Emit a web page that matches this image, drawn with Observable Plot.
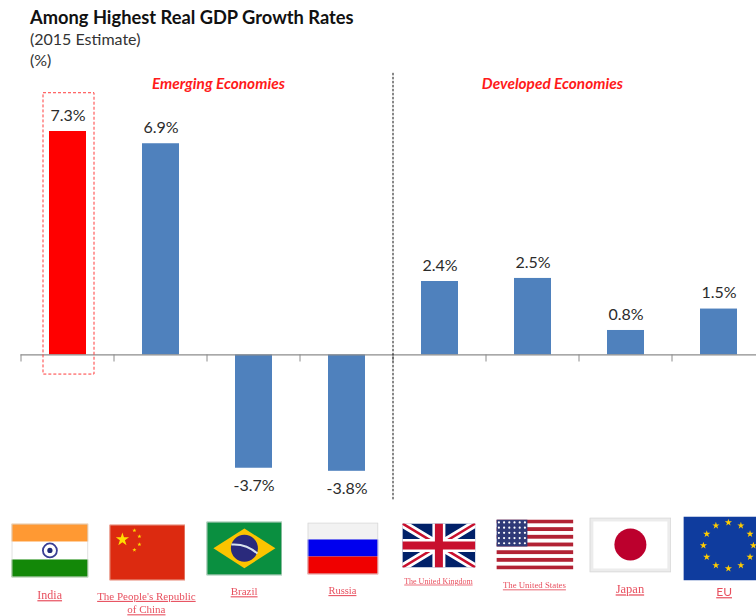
<!DOCTYPE html>
<html><head><meta charset="utf-8">
<script src="https://cdn.jsdelivr.net/npm/d3@7"></script>
<script src="https://cdn.jsdelivr.net/npm/@observablehq/plot@0.6"></script>
<style>
html,body{margin:0;padding:0;background:#fff;width:756px;height:616px;overflow:hidden}
#head{height:70px;padding:6px 0 0 30px;box-sizing:border-box;font-family:Lato,Carlito,sans-serif;color:#1a1a1a}
#head .t{font-weight:700;font-size:18.3px;line-height:22px;color:#111}
#head .s{font-size:16px;line-height:21px;color:#333}
svg{display:block}
</style></head><body>
<div id="head"><div class="t">Among Highest Real GDP Growth Rates</div><div class="s">(2015 Estimate)</div><div class="s">(%)</div></div>
<div id="chart"></div>
<script>
const countries = ["India","The People's Republic of China","Brazil","Russia","The United Kingdom","The United States","Japan","EU"];
const growth = [7.3,6.9,-3.7,-3.8,2.4,2.5,0.8,1.5];
const groups = ["Emerging Economies","Developed Economies"];
const highlighted = "India";

const table = countries.map((c,i)=>({country:c,value:growth[i],label:growth[i].toFixed(1)+"%"}));

function uri(body,w,h){
  return "data:image/svg+xml;utf8,"+encodeURIComponent(`<svg xmlns="http://www.w3.org/2000/svg" viewBox="0 0 ${w} ${h}" preserveAspectRatio="none" width="${w}" height="${h}">${body}</svg>`);
}
function star(cx,cy,r,fill,rot=0){
  let p=[];
  for(let k=0;k<10;k++){const a=-Math.PI/2+rot+k*Math.PI/5,q=k%2?r*0.382:r;p.push((cx+q*Math.cos(a)).toFixed(2)+","+(cy+q*Math.sin(a)).toFixed(2));}
  return `<polygon points="${p.join(" ")}" fill="${fill}"/>`;
}
const edge=(w,h,c="#d8d8d8")=>`<rect x=".5" y=".5" width="${w-1}" height="${h-1}" fill="none" stroke="${c}"/>`;
const flagIndia=uri(`<rect width="77" height="54" fill="#fff"/><rect width="77" height="18" fill="#ff9933"/><rect y="36" width="77" height="18" fill="#138808"/><circle cx="38.5" cy="27" r="7" fill="#fff" stroke="#3a3f95" stroke-width="1.8"/><circle cx="38.5" cy="27" r="2.6" fill="#1f2a78"/>`+edge(77,54),77,54);
const flagChina=uri(`<rect width="76" height="56" fill="#dc2a10"/>`+star(13,15,7,"#ffde00")+star(25,6,2.2,"#ffde00")+star(30,12,2.2,"#ffde00")+star(30,20,2.2,"#ffde00")+star(25,25.5,2.2,"#ffde00")+edge(76,56,"#e6a090"),76,56);
const flagBrazil=uri(`<rect width="76" height="54" fill="#0a8f40"/><polygon points="38,7 69,26.8 38,46.7 7,26.8" fill="#fcc400"/><circle cx="38" cy="26.8" r="13.5" fill="#2a2a7c"/><path d="M25 23 Q40 22 51 32" fill="none" stroke="#d9e2ee" stroke-width="2"/>`+edge(76,54),76,54);
const flagRussia=uri(`<rect width="71" height="52" fill="#f2f2f2"/><rect y="17" width="71" height="17" fill="#0000ee"/><rect y="34" width="71" height="18" fill="#f00000"/>`+edge(71,52),71,52);
const flagUK=uri(`<rect width="73" height="44" fill="#012169"/><path d="M0 0L73 44M73 0L0 44" stroke="#fff" stroke-width="8"/><path d="M0 0L73 44M73 0L0 44" stroke="#c8102e" stroke-width="2.5"/><path d="M36.5 0V44M0 22H73" stroke="#fff" stroke-width="13"/><path d="M36.5 0V44M0 22H73" stroke="#c8102e" stroke-width="8"/>`,73,44);
let usStripes="";for(let k=0;k<7;k++)usStripes+=`<rect y="${(k*2*3.846).toFixed(2)}" width="77" height="3.846" fill="#b22234"/>`;
let usStars="";for(let r=0;r<5;r++)for(let k=0;k<6;k++)usStars+=`<circle cx="${2.5+k*5.2}" cy="${3+r*5.2}" r="1.1" fill="#fff"/>`;
const flagUS=uri(`<rect width="77" height="50" fill="#fff"/>`+usStripes+`<rect width="31" height="27" fill="#2f3a78"/>`+usStars,77,50);
const flagJapan=uri(`<rect width="82" height="55" fill="#ececec"/><rect x="4" y="4" width="74" height="47" fill="#fff"/><circle cx="41" cy="27" r="16" fill="#bc002d"/>`+edge(82,55),82,55);
let euStars="";for(let k=0;k<12;k++){const a=k*Math.PI/6;euStars+=star(45+25*Math.sin(a),29+23*Math.cos(a),3.8,"#ffcc00");}
const flagEU=uri(`<rect width="90" height="64" fill="#0f3c9e"/>`+euStars,90,64);

const flags=[
 {c:"India",src:flagIndia,w:77,h:54,cx:49.5,cy:550},
 {c:"The People's Republic of China",src:flagChina,w:76,h:56,cx:147,cy:552},
 {c:"Brazil",src:flagBrazil,w:76,h:54,cx:244,cy:548},
 {c:"Russia",src:flagRussia,w:71,h:52,cx:342.5,cy:548},
 {c:"The United Kingdom",src:flagUK,w:73,h:44,cx:438.5,cy:545},
 {c:"The United States",src:flagUS,w:77,h:50,cx:534.5,cy:544},
 {c:"Japan",src:flagJapan,w:82,h:55,cx:630,cy:544.5},
 {c:"EU",src:flagEU,w:90,h:64,cx:728,cy:548}
];
const X0=21.1;
const centers=new Map(countries.map((c,i)=>[c,X0+93*(i+.5)]));
const CAP="#e8505f", TOP=70;

const captions=[
 {c:"India",t:"India",cx:49.3,cy:594,s:12},
 {c:"The People's Republic of China",t:"The People's Republic\nof China",cx:146,cy:601.8,s:11},
 {c:"Brazil",t:"Brazil",cx:243.7,cy:590.5,s:11},
 {c:"Russia",t:"Russia",cx:342,cy:589.5,s:10.5},
 {c:"The United Kingdom",t:"The United Kingdom",cx:438,cy:580,s:8},
 {c:"The United States",t:"The United States",cx:534,cy:584.5,s:8.8},
 {c:"Japan",t:"Japan",cx:629.5,cy:588,s:12.5},
 {c:"EU",t:"EU",cx:723.7,cy:591,s:12}
];

const plot=Plot.plot({
  width:756,height:546,
  marginTop:0,marginBottom:0,marginLeft:0,marginRight:0,
  style:{background:"#fff",overflow:"hidden"},
  x:{type:"band",domain:countries,range:[X0,X0+744],paddingInner:0.6,paddingOuter:0.3,align:.5,axis:null},
  y:{domain:[-3.8,7.3],range:[470.8-TOP,131-TOP],axis:null},
  marks:[
    Plot.barY(table,{x:"country",y:"value",fill:d=>d.country===highlighted?"#ff0000":"#4f81bd"}),
    Plot.text(table,{x:"country",y:"value",text:"label",lineAnchor:"middle",fontSize:16,fontFamily:"Lato, sans-serif",fill:"#2b2b2b",
      filter:d=>d.value>=0,dy:-16}),
    Plot.text(table,{x:"country",y:"value",text:"label",lineAnchor:"middle",fontSize:16,fontFamily:"Lato, sans-serif",fill:"#2b2b2b",
      filter:d=>d.value<0,dy:18}),
    Plot.ruleY([0],{stroke:"#8c8c8c",strokeWidth:1.2,insetLeft:20.5}),
    Plot.ruleX(countries,{x:d=>d,dx:-47,y1:0,y2:-0.23,stroke:"#8c8c8c"}),
    Plot.ruleX(["The United Kingdom"],{x:d=>d,dx:-47,y1:9.2,y2:-4.75,stroke:"#111",strokeDasharray:"2.5,1.5"}),
    Plot.barY([highlighted],{x:d=>d,y1:8.55,y2:-0.64,fill:"none",stroke:"#ff3b3b",strokeDasharray:"3,2",insetLeft:-6,insetRight:-8}),
    Plot.text([groups[0]],{x:["Brazil"],y:8.84,text:d=>d,dx:-35.6,fontFamily:"Lato, sans-serif",fontWeight:700,fontStyle:"italic",fontSize:15.4,fill:"#ff1a1a"}),
    Plot.text([groups[1]],{x:["Japan"],y:8.84,text:d=>d,dx:-73.6,fontFamily:"Lato, sans-serif",fontWeight:700,fontStyle:"italic",fontSize:15.4,fill:"#ff1a1a"}),
    ...flags.map(f=>Plot.image([f.c],{x:d=>d,y:0,src:()=>f.src,width:f.w,height:f.h,preserveAspectRatio:"none",
       dx:f.cx-centers.get(f.c),dy:f.cy-354.5})),
    ...captions.map(f=>Plot.text([f.c],{x:d=>d,y:0,text:()=>f.t,dx:f.cx-centers.get(f.c),dy:f.cy-354.5,
       fontFamily:f.c==="EU"?"Lato, sans-serif":"'Liberation Serif', serif",fontSize:f.s,fill:CAP,lineHeight:1.22}))
  ]
});
d3.select(plot).selectAll(`g[fill="${CAP}"] text`).style("text-decoration","underline").style("filter","blur(0.25px)");
d3.select(plot).selectAll("image").style("filter","blur(0.5px)");
document.getElementById("chart").appendChild(plot);
</script>
</body></html>
